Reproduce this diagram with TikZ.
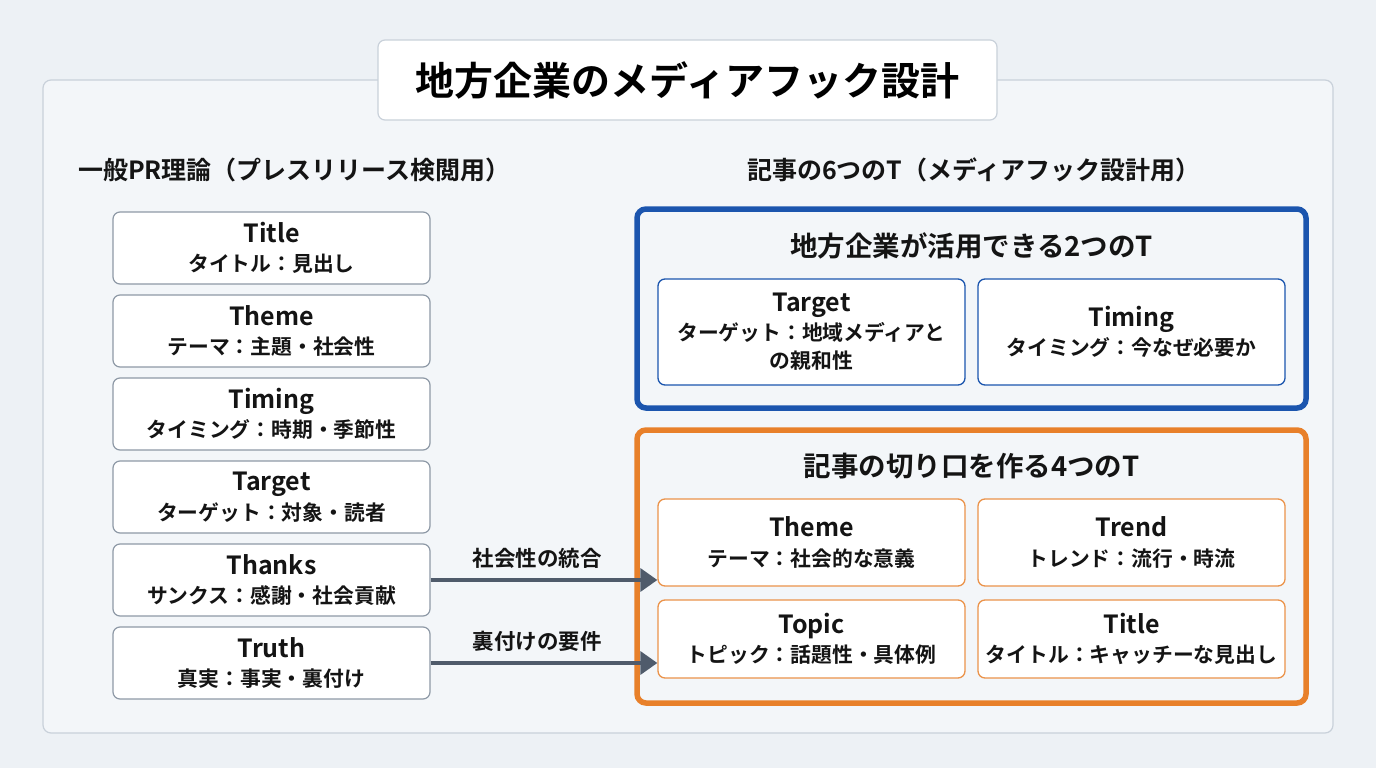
\documentclass[tikz,border=0pt]{standalone}
\usepackage{fontspec}
\setmainfont{Noto Sans CJK JP}[BoldFont={Noto Sans CJK JP Bold}]
\usetikzlibrary{arrows.meta}
\definecolor{bg}{HTML}{EDF1F5}
\definecolor{panel}{HTML}{F3F6F9}
\definecolor{panelline}{HTML}{C9D1DA}
\definecolor{boxline}{HTML}{8E99A6}
\definecolor{myblue}{HTML}{1B55AE}
\definecolor{myorange}{HTML}{E8802A}
\definecolor{arrowc}{HTML}{4F5B6B}
\definecolor{ink}{HTML}{141414}
\newcommand{\en}[1]{{\fontsize{25}{30}\selectfont\bfseries #1}}
\newcommand{\jpl}[1]{{\fontsize{20.8}{29}\selectfont\bfseries #1}}
\tikzset{
  boxfont/.style={font=\fontsize{20.8}{29.5}\selectfont},
  lbox/.style={boxfont, draw=boxline, line width=1.2pt, fill=white, rounded corners=7pt,
    minimum width=317pt, minimum height=72pt, align=center, text=ink, inner sep=0pt},
  bbox/.style={boxfont, draw=myblue, line width=1.3pt, fill=white, rounded corners=7pt,
    minimum width=307pt, minimum height=106pt, align=center, text=ink, inner sep=0pt},
  obox/.style={boxfont, draw=myorange!85, line width=1.3pt, fill=white, rounded corners=7pt,
    minimum width=307pt, align=center, text=ink, inner sep=0pt},
  head/.style={font=\fontsize{25}{28}\selectfont\bfseries, text=ink, inner sep=0pt},
  grouphead/.style={font=\fontsize{27.5}{30}\selectfont\bfseries, text=ink, inner sep=0pt},
  conn/.style={draw=arrowc, line width=3.5pt, -{Triangle[length=17pt,width=23pt]}},
  connlabel/.style={font=\fontsize{21.5}{24}\selectfont\bfseries, text=ink, inner sep=0pt}
}
\begin{document}
\begin{tikzpicture}[x=1pt,y=-1pt]
\fill[bg] (0,0) rectangle (1376,768);
\useasboundingbox (0,0) rectangle (1376,768);
% outer panel
\node[draw=panelline, line width=1.2pt, fill=panel, rounded corners=8pt,
  minimum width=1290pt, minimum height=653pt, inner sep=0pt] (panel) at (688,406.5) {};
% title
\node[draw=panelline, line width=1.2pt, fill=white, rounded corners=7pt,
  minimum width=619pt, minimum height=80pt, inner sep=0pt,
  font=\fontsize{39}{42}\selectfont\bfseries, text=black] (title) at (687.5,80) {地方企業のメディアフック設計};
% headings
\node[head, anchor=west] (lhead) at (78,170) {一般PR理論（プレスリリース検閲用）};
\node[head] (rhead) at (974,170) {記事の6つのT（メディアフック設計用）};
% left boxes
\node[lbox] (l1) at (271.5,248) {\en{Title}\\\jpl{タイトル：見出し}};
\node[lbox] (l2) at (271.5,331) {\en{Theme}\\\jpl{テーマ：主題・社会性}};
\node[lbox] (l3) at (271.5,414) {\en{Timing}\\\jpl{タイミング：時期・季節性}};
\node[lbox] (l4) at (271.5,497) {\en{Target}\\\jpl{ターゲット：対象・読者}};
\node[lbox] (l5) at (271.5,580) {\en{Thanks}\\\jpl{サンクス：感謝・社会貢献}};
\node[lbox] (l6) at (271.5,663) {\en{Truth}\\\jpl{真実：事実・裏付け}};
% blue group
\node[draw=myblue, line width=5.5pt, rounded corners=9pt, fill=panel,
  minimum width=669pt, minimum height=199pt, inner sep=0pt] (bluegrp) at (971.5,308.5) {};
\node[grouphead] (bhead) at (971.5,246) {地方企業が活用できる2つのT};
\node[bbox, font=\fontsize{20.8}{28.5}\selectfont] (b1) at (811.5,332) {\en{Target}\\\jpl{ターゲット：地域メディアと}\\\jpl{の親和性}};
\node[bbox] (b2) at (1131.5,332) {\en{Timing}\\\jpl{タイミング：今なぜ必要か}};
% orange group
\node[draw=myorange, line width=5.5pt, rounded corners=9pt, fill=panel,
  minimum width=669pt, minimum height=273pt, inner sep=0pt] (orggrp) at (971.5,566.5) {};
\node[grouphead] (ohead) at (971.5,466) {記事の切り口を作る4つのT};
\node[obox, minimum height=87pt] (o1) at (811.5,542.5) {\en{Theme}\\\jpl{テーマ：社会的な意義}};
\node[obox, minimum height=87pt] (o2) at (1131.5,542.5) {\en{Trend}\\\jpl{トレンド：流行・時流}};
\node[obox, minimum height=78pt] (o3) at (811.5,639) {\en{Topic}\\\jpl{トピック：話題性・具体例}};
\node[obox, minimum height=78pt] (o4) at (1131.5,639) {\en{Title}\\\jpl{タイトル：キャッチーな見出し}};
% connectors
\coordinate (a1) at (o1.west |- l5.east);
\coordinate (a2) at (o3.west |- l6.east);
\draw[conn] (l5.east) -- (a1);
\draw[conn] (l6.east) -- (a2);
\node[connlabel] (c1) at (537,558) {社会性の統合};
\node[connlabel] (c2) at (537,641) {裏付けの要件};
\end{tikzpicture}
\end{document}
